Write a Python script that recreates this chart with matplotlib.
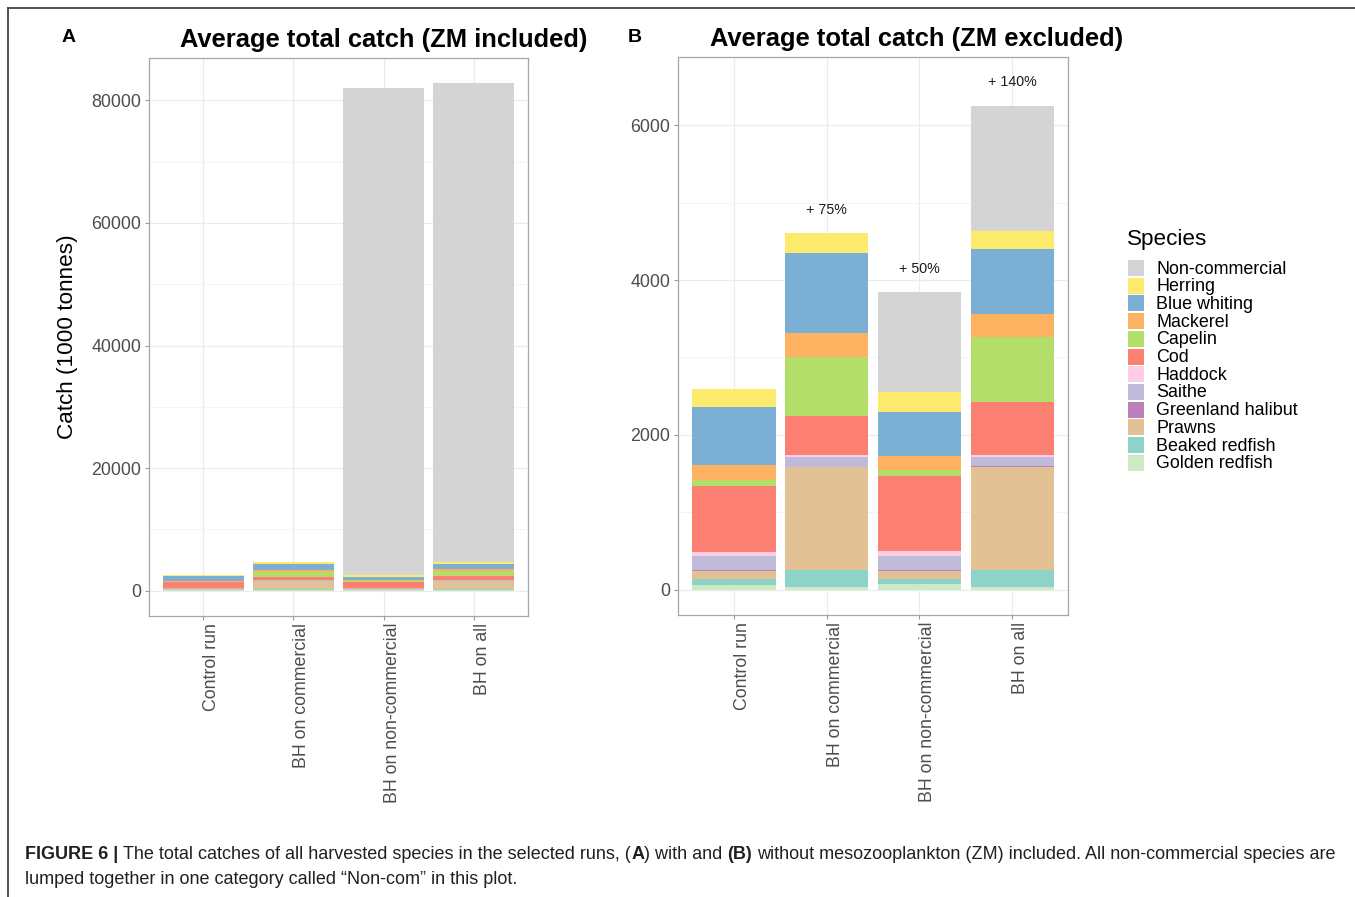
import matplotlib
matplotlib.use("Agg")
import matplotlib.pyplot as plt
from matplotlib.patches import Rectangle
from matplotlib.lines import Line2D
from matplotlib import font_manager
import numpy as np

# ---------------- data ----------------
runs = ["Control run", "BH on commercial", "BH on non-commercial", "BH on all"]
species = ["Golden redfish", "Beaked redfish", "Prawns", "Greenland halibut", "Saithe",
           "Haddock", "Cod", "Capelin", "Mackerel", "Blue whiting", "Herring", "Non-commercial"]
golden = [60, 35, 69, 35]
beaked = [75, 215, 73, 223]
prawns = [100, 1330, 95, 1325]
halibut = [20, 10, 21, 10]
saithe = [180, 120, 181, 125]
haddock = [55, 25, 64, 17]
cod = [850, 505, 968, 695]
capelin = [75, 760, 77, 839]
mackerel = [195, 310, 185, 297]
blue_whiting = [750, 1035, 560, 830]
herring = [230, 260, 258, 236]
noncom_excl = [0, 0, 1298, 1622]
noncom_incl = [0, 0, 79400, 78150]
pct_labels = ["", "+ 75%", "+ 50%", "+ 140%"]

colors = {"Non-commercial": "#D4D4D4", "Herring": "#FCEA6C", "Blue whiting": "#7BAFD3",
          "Mackerel": "#FDB262", "Capelin": "#B3DE69", "Cod": "#FB8072",
          "Haddock": "#FCCDE5", "Saithe": "#BDBADA", "Greenland halibut": "#BC80BD",
          "Prawns": "#E2C194", "Beaked redfish": "#8DD3C7", "Golden redfish": "#CCEBC5"}

commercial = [golden, beaked, prawns, halibut, saithe, haddock, cod, capelin,
              mackerel, blue_whiting, herring]

W, H = 1355, 897
fig = plt.figure(figsize=(W / 100, H / 100), dpi=100)
FONT = "Liberation Sans"
avail = {f.name for f in font_manager.fontManager.ttflist}
CAPFONT = "Liberation Sans Narrow" if "Liberation Sans Narrow" in avail else FONT

def fx(px):
    return px / W

def fy(py):
    return 1 - py / H

def style_axes(ax, major, minor, ylim):
    ax.set_xlim(0.4, 4.6)
    ax.set_ylim(*ylim)
    ax.set_yticks(major)
    ax.set_yticks(minor, minor=True)
    ax.set_xticks(np.arange(1, 5))
    ax.set_xticklabels(runs, rotation=90, ha="left", va="top", family=FONT,
                       fontsize=12.8, color="#4D4D4D")
    for lab in ax.get_yticklabels():
        lab.set_family(FONT)
    ax.tick_params(axis="y", labelsize=12.8, labelcolor="#4D4D4D", color="#9A9A9A",
                   length=3, width=0.8, pad=2.5)
    ax.tick_params(axis="x", color="#9A9A9A", length=3, width=0.8, pad=2)
    ax.tick_params(axis="y", which="minor", length=0)
    ax.grid(True, which="major", color="#EBEBEB", lw=0.9, zorder=0)
    ax.grid(True, which="minor", axis="y", color="#F3F3F3", lw=0.6, zorder=0)
    ax.set_axisbelow(True)
    for s in ax.spines.values():
        s.set_color("#A6A6A6")
        s.set_linewidth(0.9)

x = np.arange(1, 5)

def draw_stack(ax, noncom):
    bottom = np.zeros(4)
    layers = commercial + [noncom]
    for name, vals in zip(species, layers):
        ax.bar(x, vals, width=0.9, bottom=bottom, color=colors[name], lw=0, zorder=2)
        bottom = bottom + np.array(vals)
    return bottom

# Panel A
axA = fig.add_axes([fx(149), fy(616), fx(528 - 149), (616 - 58) / H])
totA = draw_stack(axA, noncom_incl)
style_axes(axA, [0, 20000, 40000, 60000, 80000],
           [10000, 30000, 50000, 70000], (-4139, 86921))
axA.set_yticklabels(["0", "20000", "40000", "60000", "80000"])

# Panel B
axB = fig.add_axes([fx(678), fy(615), fx(1068 - 678), (615 - 57) / H])
totB = draw_stack(axB, noncom_excl)
style_axes(axB, [0, 2000, 4000, 6000], [1000, 3000, 5000], (-328, 6883))
axB.set_yticklabels(["0", "2000", "4000", "6000"])
for xi, t, lab in zip(x, totB, pct_labels):
    if lab:
        axB.text(xi, t + 300, lab, ha="center", va="center", fontsize=10.3,
                 family=FONT, color="#1A1A1A", zorder=3)

# Titles & labels
fig.text(fx(384), fy(40), "Average total catch (ZM included)", ha="center", va="center",
         fontsize=18.4, fontweight="bold", family=FONT)
fig.text(fx(917), fy(39), "Average total catch (ZM excluded)", ha="center", va="center",
         fontsize=18.4, fontweight="bold", family=FONT)
fig.text(fx(69), fy(37), "A", ha="center", va="center", fontsize=14, fontweight="bold", family=FONT)
fig.text(fx(635), fy(37), "B", ha="center", va="center", fontsize=14, fontweight="bold", family=FONT)
fig.text(fx(67), fy(337), "Catch (1000 tonnes)", rotation=90, ha="center", va="center",
         fontsize=16.2, family=FONT)

# Legend
fig.text(fx(1127), fy(239), "Species", ha="left", va="center", fontsize=16.2, family=FONT)
legend_order = species[::-1]
for i, name in enumerate(legend_order):
    cy = 268 + i * 17.7
    fig.patches.append(Rectangle((fx(1128), fy(cy + 8)), fx(16), 16 / H,
                                 transform=fig.transFigure, facecolor=colors[name],
                                 edgecolor="none"))
    fig.text(fx(1156), fy(cy + 1), name, ha="left", va="center", fontsize=12.9, family=FONT)

# Frame
fig.add_artist(Line2D([fx(8), 1], [fy(8), fy(8)], transform=fig.transFigure,
                      color="#444444", lw=1.3))
fig.add_artist(Line2D([fx(8), fx(8)], [fy(8), 0], transform=fig.transFigure,
                      color="#444444", lw=1.3))

# Caption
renderer = fig.canvas.get_renderer()

def width_px(s, size, weight):
    t = fig.text(0, 0, s, fontsize=size, fontweight=weight, family=CAPFONT)
    w = t.get_window_extent(renderer).width
    t.remove()
    return w

seg1 = [("FIGURE 6 |", "bold", True),
        ("The total catches of all harvested species in the selected runs, (", "normal", False),
        ("A", "bold", False),
        (") with and", "normal", True),
        ("(B)", "bold", True),
        ("without mesozooplankton (ZM) included. All non-commercial species are", "normal", False)]
seg2 = [("lumped together in one category called \u201cNon-com\u201d in this plot.", "normal", False)]

def line_width(segs, size):
    sp = width_px("x x", size, "normal") - width_px("xx", size, "normal")
    tot = 0
    for s, w, gap in segs:
        tot += width_px(s, size, w) + (sp if gap else 0)
    return tot

base = 12.0
target = 1338 - 25
cap_size = base * target / line_width(seg1, base)

def chain(segs, x0, y, size):
    sp = width_px("x x", size, "normal") - width_px("xx", size, "normal")
    xp = x0
    for s, w, gap in segs:
        fig.text(fx(xp), fy(y), s, fontsize=size, fontweight=w, family=CAPFONT,
                 ha="left", va="center", color="#231F20")
        xp += width_px(s, size, w) + (sp if gap else 0)

chain(seg1, 25, 854, cap_size)
chain(seg2, 25, 879, cap_size)

fig.savefig("out.png", dpi=100)
